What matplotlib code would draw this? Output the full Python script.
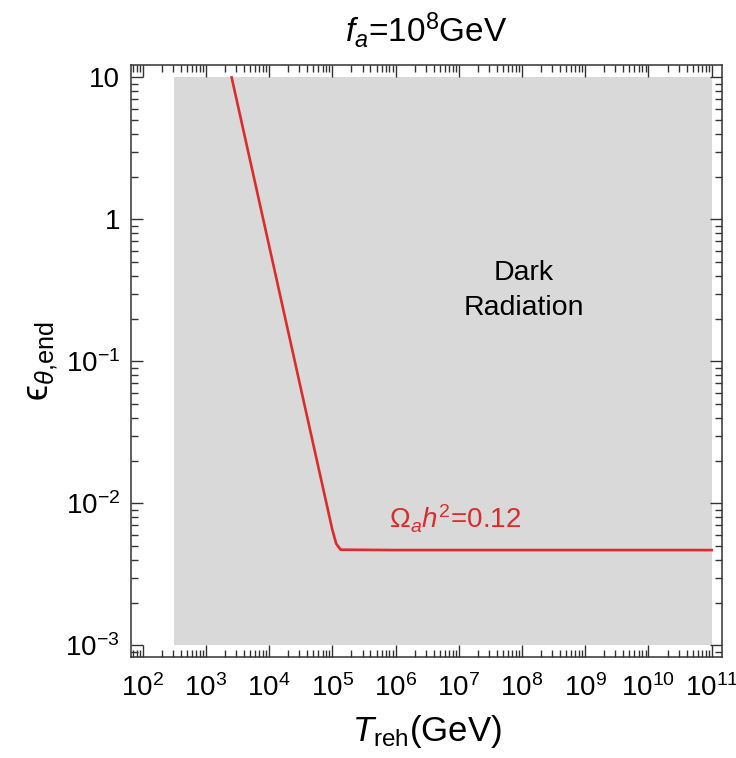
import numpy as np
import matplotlib.pyplot as plt
from matplotlib.ticker import LogLocator, FuncFormatter, NullFormatter

plt.rcParams['font.family'] = ['Liberation Sans', 'DejaVu Sans']
plt.rcParams['mathtext.fontset'] = 'custom'
plt.rcParams['mathtext.rm'] = 'Liberation Sans'
plt.rcParams['mathtext.it'] = 'Liberation Sans:italic'
plt.rcParams['mathtext.bf'] = 'Liberation Sans:bold'

# relic-abundance contour Omega_a h^2 = 0.12
T_reh = [2.55e3, 1.0e4, 3.0e4, 1.0e5, 1.15e5, 1.35e5, 1.0e6, 1.0e8, 1.0e11]
eps_end = [10.0, 0.65, 0.072, 6.5e-3, 5.2e-3, 4.72e-3, 4.69e-3, 4.69e-3, 4.69e-3]

# dark radiation excluded band
dr_T = [3.1e2, 1.0e11]
dr_eps = [1e-3, 10.0]

red = '#dd2b2b'

fig = plt.figure(figsize=(7.36, 7.58), dpi=100)
ax = fig.add_axes([0.178, 0.1332, 0.803, 0.781])

ax.fill_between(dr_T, dr_eps[0], dr_eps[1], color='#d9d9d9', lw=0, zorder=0)
ax.plot(T_reh, eps_end, color=red, lw=1.9, zorder=2)

ax.set_xscale('log')
ax.set_yscale('log')
ax.set_xlim(10**1.815, 10**11.163)
ax.set_ylim(10**-3.082, 10**1.087)

def xfmt(v, pos):
    return r'$10^{%d}$' % round(np.log10(v))

def yfmt(v, pos):
    n = round(np.log10(v))
    if n == 0:
        return '1'
    if n == 1:
        return '10'
    return r'$10^{%d}$' % n

ax.xaxis.set_major_locator(LogLocator(base=10, numticks=20))
ax.xaxis.set_minor_locator(LogLocator(base=10, subs=np.arange(2, 10), numticks=20))
ax.yaxis.set_major_locator(LogLocator(base=10, numticks=20))
ax.yaxis.set_minor_locator(LogLocator(base=10, subs=np.arange(2, 10), numticks=20))
ax.xaxis.set_major_formatter(FuncFormatter(xfmt))
ax.yaxis.set_major_formatter(FuncFormatter(yfmt))
ax.xaxis.set_minor_formatter(NullFormatter())
ax.yaxis.set_minor_formatter(NullFormatter())

ax.tick_params(which='both', direction='in', top=True, right=True,
               color='#333333', width=1.0, labelsize=20)
ax.tick_params(which='major', length=8.5)
ax.tick_params(axis='x', which='major', pad=12)
ax.tick_params(axis='y', which='major', pad=8)
ax.tick_params(which='minor', length=5)
for s in ax.spines.values():
    s.set_linewidth(1.1)
    s.set_color('#333333')

ax.set_xlabel(r'$T_{\mathrm{reh}}$(GeV)', fontsize=25, labelpad=8)
ax.set_ylabel('ϵ' + r'$_{\theta{,}\mathrm{end}}$', fontsize=26, labelpad=4)
ax.set_title(r'$f_a$=10$^8$GeV', fontsize=24, pad=17)

ax.text(10**8.03, 10**-0.5, 'Dark\nRadiation', fontsize=20.5, ha='center',
        va='center', linespacing=1.45)
ax.text(10**6.94, 10**-2.11, r'$\Omega_a h^2$=0.12', fontsize=20, color=red,
        ha='center', va='center')

plt.savefig('out.png', dpi=100)
